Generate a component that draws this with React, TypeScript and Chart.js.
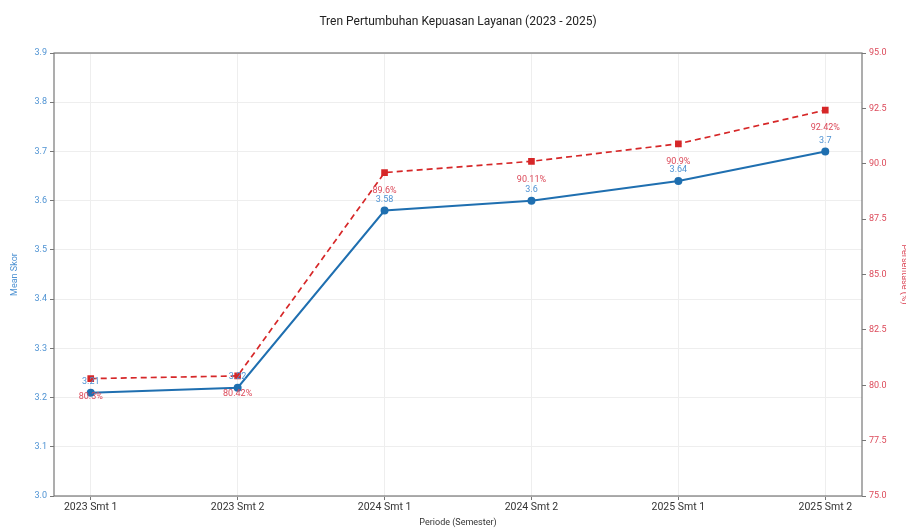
import React, { useEffect, useRef } from 'react';
import { Chart, registerables } from 'chart.js';

Chart.register(...registerables);

const chartTitle = 'Tren Pertumbuhan Kepuasan Layanan (2023 - 2025)';
const categories = ['2023 Smt 1', '2023 Smt 2', '2024 Smt 1', '2024 Smt 2', '2025 Smt 1', '2025 Smt 2'];
const meanScores = [3.21, 3.22, 3.58, 3.6, 3.64, 3.7];
const percentages = [80.3, 80.42, 89.6, 90.11, 90.9, 92.42];
const meanLabels = ['3.21', '3.22', '3.58', '3.6', '3.64', '3.7'];
const pctLabels = ['80.3%', '80.42%', '89.6%', '90.11%', '90.9%', '92.42%'];
const leftRange = [3.0, 3.9];
const rightRange = [75, 95];
const leftTitle = 'Mean Skor';
const rightTitle = 'Persentase (%)';
const xTitle = 'Periode (Semester)';

const BLUE = '#1f6fb0';
const BLUE_TEXT = '#4f93d3';
const RED = '#d62728';
const RED_TEXT = '#dc4a5a';
const FONT = 'Roboto, "Noto Sans", sans-serif';

export default function App() {
  const ref = useRef<HTMLCanvasElement | null>(null);

  useEffect(() => {
    document.body.style.margin = '0';
    if (!ref.current) return;

    const labelPlugin = {
      id: 'pointLabels',
      afterDatasetsDraw(chart: any) {
        const ctx = chart.ctx;
        ctx.save();
        ctx.font = `9px ${FONT}`;
        ctx.textAlign = 'center';
        ctx.textBaseline = 'middle';
        const m0 = chart.getDatasetMeta(0);
        m0.data.forEach((el: any, i: number) => {
          ctx.fillStyle = BLUE_TEXT;
          ctx.fillText(meanLabels[i], el.x, el.y - 11);
        });
        const m1 = chart.getDatasetMeta(1);
        m1.data.forEach((el: any, i: number) => {
          ctx.fillStyle = RED_TEXT;
          ctx.fillText(pctLabels[i], el.x, el.y + 18);
        });
        ctx.restore();
      },
      afterDraw(chart: any) {
        const { ctx, chartArea } = chart;
        ctx.save();
        ctx.strokeStyle = '#777';
        ctx.lineWidth = 1.2;
        ctx.strokeRect(chartArea.left, chartArea.top, chartArea.right - chartArea.left, chartArea.bottom - chartArea.top);
        ctx.fillStyle = '#222';
        ctx.font = `12px ${FONT}`;
        ctx.textAlign = 'center';
        ctx.textBaseline = 'middle';
        ctx.fillText(chartTitle, (chartArea.left + chartArea.right) / 2, 22);
        const cy = (chartArea.top + chartArea.bottom) / 2;
        ctx.save();
        ctx.translate(906, cy);
        ctx.rotate(Math.PI / 2);
        ctx.fillStyle = RED_TEXT;
        ctx.font = `9px ${FONT}`;
        ctx.fillText(rightTitle, 0, 2);
        ctx.restore();
        ctx.restore();
      },
    };

    const chart = new Chart(ref.current, {
      type: 'line',
      data: {
        datasets: [
          {
            label: leftTitle,
            data: meanScores.map((v, i) => ({ x: i, y: v })),
            borderColor: BLUE,
            backgroundColor: BLUE,
            borderWidth: 2,
            pointRadius: 3,
            pointStyle: 'circle',
            pointBackgroundColor: BLUE,
            pointBorderColor: BLUE,
            yAxisID: 'y',
            tension: 0,
          },
          {
            label: rightTitle,
            data: percentages.map((v, i) => ({ x: i, y: v })),
            borderColor: RED,
            backgroundColor: RED,
            borderWidth: 1.7,
            borderDash: [6, 4],
            pointRadius: 3.5,
            pointStyle: 'rect',
            pointBackgroundColor: RED,
            pointBorderColor: RED,
            yAxisID: 'y1',
            tension: 0,
          },
        ],
      },
      options: {
        animation: false,
        responsive: true,
        maintainAspectRatio: false,
        layout: { padding: { top: 53, left: 0, right: 0, bottom: 0 } },
        plugins: {
          legend: { display: false },
          title: { display: false },
          tooltip: { enabled: false },
        },
        scales: {
          x: {
            type: 'linear',
            min: -0.25,
            max: categories.length - 0.75,
            afterBuildTicks(scale: any) {
              scale.ticks = categories.map((_, i) => ({ value: i }));
            },
            afterFit(scale: any) {
              scale.height = 33;
            },
            ticks: {
              callback: (v: any) => categories[Math.round(Number(v))] ?? '',
              color: '#333',
              font: { family: FONT, size: 10.5 },
              padding: 1,
              maxRotation: 0,
              autoSkip: false,
            },
            grid: { color: '#eeeeee', tickColor: '#777', tickLength: 4, drawTicks: true },
            border: { display: false },
            title: {
              display: true,
              text: xTitle,
              color: '#333',
              font: { family: FONT, size: 9 },
              padding: { top: 0, bottom: 1 },
            },
          },
          y: {
            type: 'linear',
            position: 'left',
            min: leftRange[0],
            max: leftRange[1],
            afterFit(scale: any) {
              scale.width = 54;
            },
            ticks: {
              stepSize: 0.1,
              callback: (v: any) => Number(v).toFixed(1),
              color: BLUE_TEXT,
              font: { family: FONT, size: 9 },
              padding: 3,
            },
            grid: { color: '#eeeeee', tickColor: '#777', tickLength: 4 },
            border: { display: false },
            title: {
              display: true,
              text: leftTitle,
              color: BLUE_TEXT,
              font: { family: FONT, size: 9 },
              padding: { top: 9, bottom: 0 },
            },
          },
          y1: {
            type: 'linear',
            position: 'right',
            min: rightRange[0],
            max: rightRange[1],
            afterFit(scale: any) {
              scale.width = 44;
            },
            ticks: {
              stepSize: 2.5,
              callback: (v: any) => Number(v).toFixed(1),
              color: RED_TEXT,
              font: { family: FONT, size: 9 },
              padding: 3,
            },
            grid: { drawOnChartArea: false, tickColor: '#777', tickLength: 4 },
            border: { display: false },
            title: { display: false },
          },
        },
      },
      plugins: [labelPlugin],
    } as any);

    return () => chart.destroy();
  }, []);

  return (
    <div style={{ position: 'relative', width: 906, height: 529 }}>
      <canvas ref={ref} />
    </div>
  );
}
